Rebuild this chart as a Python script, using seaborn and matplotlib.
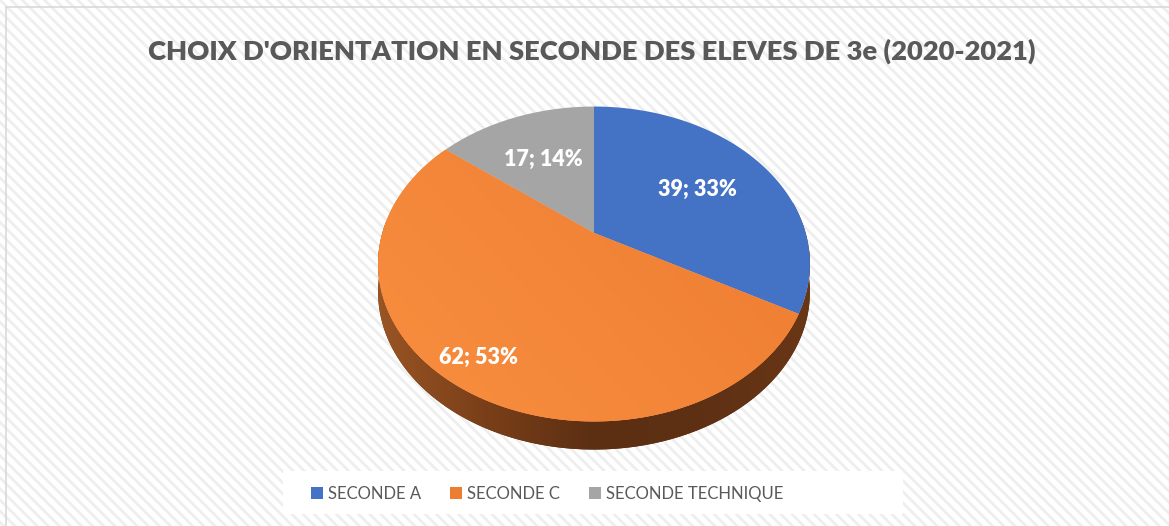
import numpy as np
import matplotlib
matplotlib.use("Agg")
import matplotlib.pyplot as plt
import seaborn as sns
from matplotlib.transforms import Transform
from matplotlib.path import Path
from matplotlib.patches import Rectangle, Polygon, Patch
from matplotlib.colors import LinearSegmentedColormap

# donnees
categories = ["SECONDE A", "SECONDE C", "SECONDE TECHNIQUE"]
counts = [39, 62, 17]
title = "CHOIX D'ORIENTATION EN SECONDE DES ELEVES DE 3e (2020-2021)"

sns.set_theme(style="white")
plt.rcParams["font.family"] = ["Lato", "DejaVu Sans"]
plt.rcParams["hatch.linewidth"] = 2.0

colors = sns.color_palette(["#4472C4", "#ED7D31", "#A5A5A5"])


class Tilt(Transform):
    """Projection perspective simple d'un disque unite vers les pixels"""
    input_dims = output_dims = 2

    def __init__(self, cx, cy, r, c=0.197, s=0.729, f=0.98, drop=0.0):
        super().__init__()
        self.cx, self.cy, self.r = cx, cy, r
        self.c, self.s, self.f, self.drop = c, s, f, drop
        self.b = s * c

    def transform_non_affine(self, v):
        v = np.asarray(v, dtype=float).reshape(-1, 2)
        x, y = v[:, 0], v[:, 1]
        d = 1 + self.c * y
        xp = self.f * x / d
        yp = (self.s * y + self.b) / d - self.drop
        return np.column_stack([self.cx + self.r * xp, self.cy - self.r * yp])

    def transform_path_non_affine(self, path):
        pts = [seg(np.linspace(0, 1, 30)) for seg, _ in path.iter_bezier()]
        verts = np.concatenate(pts)
        return Path(self.transform_non_affine(verts), closed=True)


W, H = 1169, 526
fig = plt.figure(figsize=(W / 100, H / 100), dpi=100)

# fond raye + bordure
fig.add_artist(Rectangle((0, 0), 1, 1, transform=fig.transFigure,
                         facecolor="white", edgecolor="#eeeeee", linewidth=0,
                         hatch="\\\\\\", zorder=-10))
fig.add_artist(Rectangle((6 / W, -0.01), 1.02, 1 - 7 / H + 0.01,
                         transform=fig.transFigure, fill=False,
                         edgecolor="#d9d9d9", linewidth=1.2, zorder=-9))
# cadre blanc de la legende
fig.add_artist(Rectangle((283 / W, 1 - 514 / H), 620 / W, 43 / H,
                         transform=fig.transFigure, facecolor="white",
                         edgecolor="none", zorder=-8))

ax = fig.add_axes([0, 0, 1, 1])
ax.patch.set_visible(False)

top_tf = Tilt(594, 264, 216)
bot_tf = Tilt(594, 264, 216, drop=0.13)

wedges, _ = ax.pie(counts, colors=colors, startangle=90, counterclock=False,
                   radius=1, center=(0, 0), wedgeprops=dict(linewidth=0))
for w in wedges:
    w.set_transform(top_tf + ax.transData)
    w.set_zorder(3)

# flanc du camembert
ang = np.radians(np.linspace(175, 372, 200))
ring = np.column_stack([np.cos(ang), np.sin(ang)])
side_pts = np.vstack([top_tf.transform(ring), bot_tf.transform(ring)[::-1]])
side = Polygon(side_pts, closed=True, facecolor="#5f3114", edgecolor="none", zorder=1)
ax.add_patch(side)
side_cmap = LinearSegmentedColormap.from_list(
    "side", ["#9a5524", "#7a3f19", "#5c2f13", "#5e3014", "#6a3716"])
grad = np.linspace(0, 1, 256)[None, :]
im = ax.imshow(grad, extent=(376, 812, 470, 250), cmap=side_cmap,
               aspect="auto", zorder=2)
im.set_clip_path(side)

# degrade sur la face orange
xx, yy = np.meshgrid(np.linspace(0, 1, 200), np.linspace(0, 1, 200))
orange_cmap = LinearSegmentedColormap.from_list("or", ["#f98f40", "#ee7e32"])
im2 = ax.imshow(np.clip(0.7 * xx + 0.5 * (1 - yy), 0, 1), extent=(376, 812, 430, 100),
                cmap=orange_cmap, aspect="auto", zorder=3.5)
im2.set_clip_path(wedges[1])

# etiquettes
total = sum(counts)
label_dist = [0.6, 0.85, 0.6]
for w, v, d in zip(wedges, counts, label_dist):
    mid = np.radians((w.theta1 + w.theta2) / 2)
    px, py = top_tf.transform([[d * np.cos(mid), d * np.sin(mid)]])[0]
    ax.text(px, py, f"{v}; {round(100 * v / total)}%", ha="center", va="center",
            color="white", fontsize=15.5, fontweight="heavy", zorder=5)

ax.set_xlim(0, W)
ax.set_ylim(H, 0)
ax.set_aspect("auto")
ax.axis("off")

fig.text(0.506, 0.903, title, ha="center", va="center", fontsize=19.7,
         fontweight="heavy", color="#595959")

handles = [Patch(facecolor=c, edgecolor="none") for c in colors]
leg = fig.legend(handles, categories, loc="center", bbox_to_anchor=(547 / W, 1 - 494 / H),
                 ncol=3, frameon=False, fontsize=12,
                 handlelength=0.72, handleheight=0.72, handletextpad=0.3,
                 columnspacing=1.75, borderpad=0, borderaxespad=0)
for t in leg.get_texts():
    t.set_color("#595959")

fig.savefig("out.png", dpi=100)
